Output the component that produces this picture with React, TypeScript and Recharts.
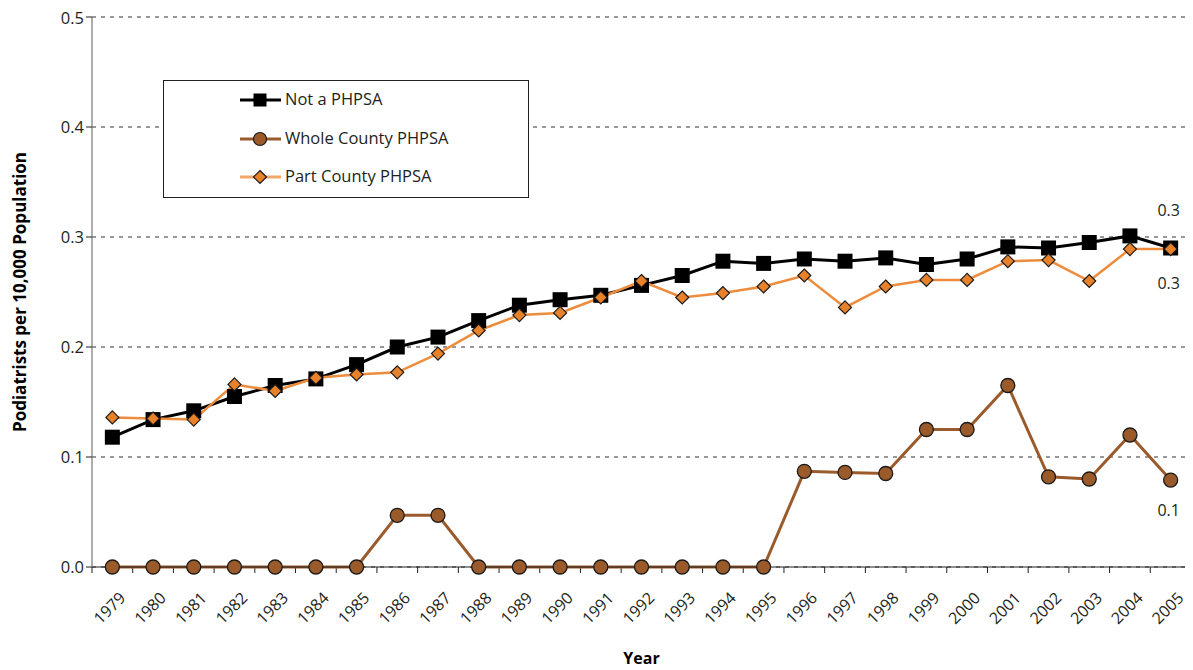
import React from 'react';
import * as R from 'recharts';
import { LineChart, Line, XAxis, YAxis, CartesianGrid, Legend, LabelList } from 'recharts';

const years = ['1979','1980','1981','1982','1983','1984','1985','1986','1987','1988','1989','1990','1991','1992','1993','1994','1995','1996','1997','1998','1999','2000','2001','2002','2003','2004','2005'];
const notPHPSA = [0.118,0.134,0.142,0.155,0.165,0.171,0.184,0.200,0.209,0.224,0.238,0.243,0.247,0.256,0.265,0.278,0.276,0.280,0.278,0.281,0.275,0.280,0.291,0.290,0.295,0.301,0.290];
const wholeCounty = [0,0,0,0,0,0,0,0.047,0.047,0,0,0,0,0,0,0,0,0.087,0.086,0.085,0.125,0.125,0.165,0.082,0.080,0.120,0.079];
const partCounty = [0.136,0.135,0.134,0.166,0.160,0.172,0.175,0.177,0.194,0.215,0.229,0.231,0.245,0.260,0.245,0.249,0.255,0.265,0.236,0.255,0.261,0.261,0.278,0.279,0.260,0.289,0.289];
const yTicks = [0, 0.1, 0.2, 0.3, 0.4, 0.5];
const endLabels = ['0.3', '0.1', '0.3'];

const data = years.map((y, i) => ({ year: y, not: notPHPSA[i], whole: wholeCounty[i], part: partCounty[i] }));

const FONT = '"Open Sans", "Noto Sans", sans-serif';
const C_BLACK = '#000000';
const C_BROWN = '#9b5a2a';
const C_BROWN_LINE = '#9a5b2c';
const C_ORANGE = '#e8822a';
const C_ORANGE_LINE = '#ec8c3c';

const SquareDot = (props: any) => {
  const { cx, cy, index } = props;
  if (cx == null || cy == null) return <g key={`s${index}`} />;
  return <rect key={`s${index}`} x={cx - 7.5} y={cy - 7.5} width={15} height={15} fill="#000" />;
};
const CircleDot = (props: any) => {
  const { cx, cy, index } = props;
  if (cx == null || cy == null) return <g key={`c${index}`} />;
  return <circle key={`c${index}`} cx={cx} cy={cy} r={7} fill={C_BROWN} stroke="#1a1a1a" strokeWidth={1.3} />;
};
const DiamondDot = (props: any) => {
  const { cx, cy, index } = props;
  if (cx == null || cy == null) return <g key={`d${index}`} />;
  const r = 6.5;
  return <path key={`d${index}`} d={`M${cx},${cy - r}L${cx + r},${cy}L${cx},${cy + r}L${cx - r},${cy}Z`} fill={C_ORANGE} stroke="#1a1a1a" strokeWidth={1.2} />;
};

const makeEndLabel = (text: string, dy: number) => (props: any) => {
  const { x, y, index } = props;
  if (index !== years.length - 1) return null;
  return (
    <text x={x - 2} y={y + dy} textAnchor="middle" dominantBaseline="central" fontFamily={FONT} fontSize={16} fill="#231f20">
      {text}
    </text>
  );
};

const legendItems = [
  { name: 'Not a PHPSA', color: C_BLACK, kind: 'square' },
  { name: 'Whole County PHPSA', color: C_BROWN_LINE, kind: 'circle' },
  { name: 'Part County PHPSA', color: '#f3a66a', kind: 'diamond' },
];

const LegendBox = () => (
  <div style={{ width: 364, height: 116, border: '1px solid #231f20', background: '#fff', position: 'relative', fontFamily: FONT }}>
    {legendItems.map((it, i) => {
      const top = 19 + i * 38.5;
      return (
        <div key={it.name} style={{ position: 'absolute', left: 0, top: top - 12, height: 24, width: 364 }}>
          <svg width={50} height={24} style={{ position: 'absolute', left: 75, top: 0 }}>
            <line x1={1} y1={12} x2={42} y2={12} stroke={it.color} strokeWidth={3} />
            {it.kind === 'square' && <rect x={14.5} y={5.5} width={13} height={13} fill="#000" />}
            {it.kind === 'circle' && <circle cx={21} cy={12} r={6.5} fill={C_BROWN} stroke="#1a1a1a" strokeWidth={1.2} />}
            {it.kind === 'diamond' && <path d="M21,5.5L27.5,12L21,18.5L14.5,12Z" fill={C_ORANGE} stroke="#1a1a1a" strokeWidth={1.2} />}
          </svg>
          <span style={{ position: 'absolute', left: 121, top: 0, fontSize: 16.5, color: '#231f20', lineHeight: '22px', whiteSpace: 'nowrap' }}>{it.name}</span>
        </div>
      );
    })}
  </div>
);

// boundary tick marks between the year bands, derived from the plot area
const BandTicks = () => {
  const hook: any = (R as any).usePlotArea || (R as any).useOffset;
  const area: any = hook ? hook() : null;
  if (!area || area.width == null) return null;
  const left = area.x != null ? area.x : area.left;
  const top = area.y != null ? area.y : area.top;
  const bottom = top + area.height;
  const step = area.width / years.length;
  return (
    <g>
      {years.concat(['end']).map((_, i) => (
        <line key={i} x1={left + i * step} y1={bottom} x2={left + i * step} y2={bottom + 6} stroke="#231f20" strokeWidth={1} />
      ))}
    </g>
  );
};

const XTick = (props: any) => {
  const { x, y, payload } = props;
  return (
    <text x={x + 14} y={y + 24} textAnchor="end" fontFamily={FONT} fontSize={16} fill="#231f20" transform={`rotate(-45, ${x + 14}, ${y + 24})`}>
      {payload.value}
    </text>
  );
};

export default function App() {
  return (
    <div style={{ position: 'relative', width: 1185, height: 662 }}>
      <LineChart width={1185} height={662} data={data} margin={{ top: 9, right: 2, bottom: 33, left: 24 }}>
        <CartesianGrid horizontal vertical={false} stroke="#333" strokeDasharray="4 5" strokeWidth={1} />
        <XAxis
          dataKey="year"
          scale="band"
          height={70}
          interval={0}
          tick={<XTick />}
          tickLine={false}
          axisLine={{ stroke: '#231f20', strokeWidth: 1.2 }}
          label={{ value: 'Year', position: 'insideBottom', offset: -27, style: { fontFamily: FONT, fontSize: 16, fontWeight: 700, fill: '#000' } }}
        />
        <YAxis
          domain={[0, 0.5]}
          ticks={yTicks}
          width={60}
          tickFormatter={(v: number) => v.toFixed(1)}
          tick={{ fontFamily: FONT, fontSize: 16.5, fill: '#231f20' }}
          tickLine={{ stroke: '#231f20' }}
          tickSize={6}
          axisLine={{ stroke: '#777', strokeWidth: 1.2 }}
          label={{ value: 'Podiatrists per 10,000 Population', angle: -90, position: 'insideLeft', offset: -12, style: { textAnchor: 'middle', fontFamily: FONT, fontSize: 17, fontWeight: 700, fill: '#000' } }}
        />
        <BandTicks />
        <Legend layout="horizontal" verticalAlign="middle" align="center" content={<LegendBox />} wrapperStyle={{ position: 'absolute', left: 155, top: 72, width: 366, height: 118 }} />
        <Line dataKey="whole" name="Whole County PHPSA" stroke={C_BROWN_LINE} strokeWidth={3} dot={<CircleDot />} isAnimationActive={false}>
          <LabelList dataKey="whole" content={makeEndLabel(endLabels[1], 30)} />
        </Line>
        <Line dataKey="not" name="Not a PHPSA" stroke={C_BLACK} strokeWidth={3} dot={<SquareDot />} isAnimationActive={false}>
          <LabelList dataKey="not" content={makeEndLabel(endLabels[0], -38)} />
        </Line>
        <Line dataKey="part" name="Part County PHPSA" stroke={C_ORANGE_LINE} strokeWidth={2.5} dot={<DiamondDot />} isAnimationActive={false}>
          <LabelList dataKey="part" content={makeEndLabel(endLabels[2], 34)} />
        </Line>
      </LineChart>
    </div>
  );
}
